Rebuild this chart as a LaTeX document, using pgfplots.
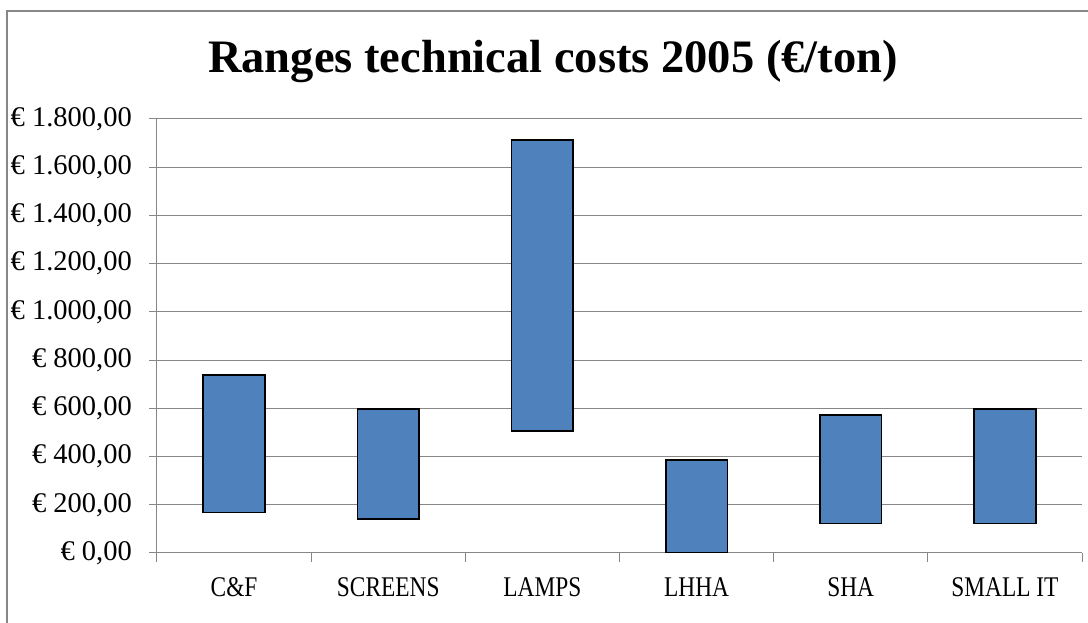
\documentclass[border=0pt]{standalone}
\usepackage{pgfplots}
\pgfplotsset{compat=1.18}
\usepackage{pgfplotstable}
\usepackage{fontspec}
\setmainfont{Liberation Serif}
\newfontfamily\xlabfont[FakeStretch=0.82]{Liberation Serif}
\definecolor{barblue}{HTML}{4F81BD}
\definecolor{gridgray}{HTML}{878787}

\pgfplotstableread{
x low high
0 168 739
1 140 597
2 506 1712
3 0 386
4 122 573
5 122 597
}\ranges

\begin{document}
\begin{tikzpicture}[x=1pt,y=1pt]
\path[use as bounding box] (0,0) rectangle (1088,623);
\draw[gridgray, line width=1.5pt] (7,0) -- (7,612) -- (1088,612);
\node[font=\fontsize{46.5}{52}\selectfont\bfseries, anchor=base, inner sep=0pt] at (553,550) {Ranges technical costs 2005 (€/ton)};
\begin{axis}[
  at={(157pt,70pt)}, anchor=south west,
  scale only axis, width=925pt, height=434pt,
  xmin=-0.5, xmax=5.5, ymin=0, ymax=1800,
  ybar stacked, bar width=61.7pt,
  axis lines=left, axis line style={-, draw=gridgray, line width=1pt},
  tick align=outside,
  ytick={0,200,...,1800},
  yticklabels={{€ 0,00},{€ 200,00},{€ 400,00},{€ 600,00},{€ 800,00},{€ 1.000,00},{€ 1.200,00},{€ 1.400,00},{€ 1.600,00},{€ 1.800,00}},
  xtick={0,...,5},
  xticklabels={C\&F,SCREENS,LAMPS,LHHA,SHA,SMALL IT},
  minor xtick={-0.5,0.5,1.5,2.5,3.5,4.5,5.5},
  major x tick style={draw=none},
  minor x tick style={draw=gridgray, line width=1pt},
  major y tick style={draw=gridgray, line width=1pt},
  major tick length=8pt, minor tick length=9pt,
  ymajorgrids, grid style={draw=gridgray, line width=1pt},
  yticklabel style={font=\fontsize{28.5}{30}\selectfont, anchor=east, inner sep=0pt, xshift=-17pt},
  xticklabel style={font=\xlabfont\fontsize{28.5}{30}\selectfont, anchor=north, inner sep=0pt, yshift=-16pt},
]
\addplot[draw=none, fill=none] table[x=x, y=low]{\ranges};
\addplot[fill=barblue, draw=black, line width=1.6pt] table[x=x, y expr=\thisrow{high}-\thisrow{low}]{\ranges};
\end{axis}
\end{tikzpicture}
\end{document}
